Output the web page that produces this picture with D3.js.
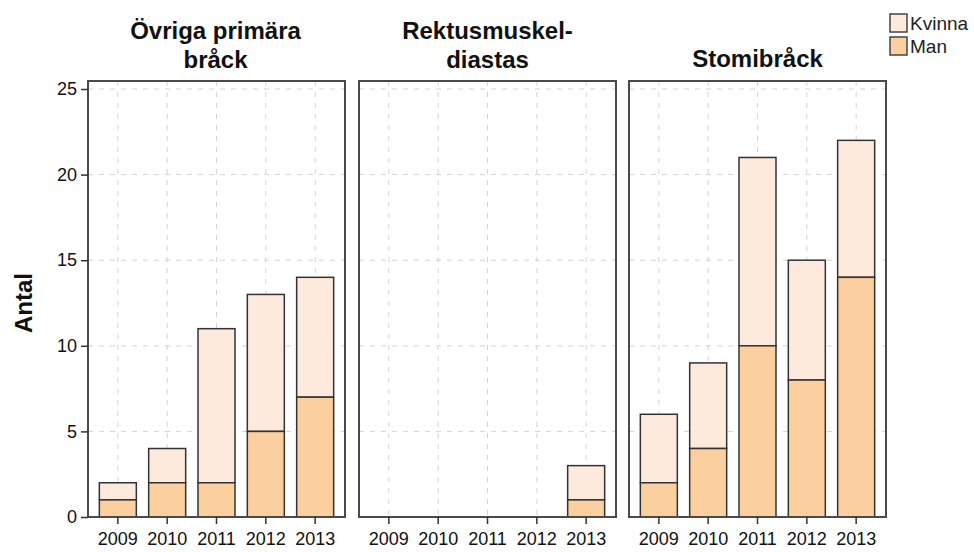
<!DOCTYPE html>
<html><head><meta charset="utf-8">
<script src="https://cdn.jsdelivr.net/npm/d3@7"></script>
<style>body{margin:0;background:#fff;} svg{display:block;}</style>
</head><body>
<script>
const years = ["2009","2010","2011","2012","2013"];
const panelTitles = [["Övriga primära","bråck"],["Rektusmuskel-","diastas"],["Stomibråck"]];
const manValues = [[1,2,2,5,7],[0,0,0,0,1],[2,4,10,8,14]];
const kvinnaValues = [[1,2,9,8,7],[0,0,0,0,2],[4,5,11,7,8]];
const yTicks = [0,5,10,15,20,25];
const seriesNames = ["Kvinna","Man"];
const seriesColors = ["#fdeadc","#fbcf9e"];

const W=974,H=552;
const svg=d3.select("body").append("svg").attr("width",W).attr("height",H);
const panelLeft=[88,359,629], panelW=257;
const frameTop=81, y0=517;
const y=d3.scaleLinear().domain([0,25]).range([y0,89]);
const font="'Liberation Sans', Arial, sans-serif";

panelLeft.forEach((px,pi)=>{
  const x=d3.scaleBand().domain(years).range([px,px+panelW]).paddingInner(0.25).paddingOuter(0.23);
  const g=svg.append("g");
  g.selectAll(".hg").data(yTicks.filter(d=>d>0)).join("line")
    .attr("x1",px).attr("x2",px+panelW).attr("y1",d=>y(d)).attr("y2",d=>y(d))
    .attr("stroke","#d4d4d4").attr("stroke-width",1).attr("stroke-dasharray","5,6");
  g.selectAll(".vg").data(years).join("line")
    .attr("x1",d=>x(d)+x.bandwidth()/2).attr("x2",d=>x(d)+x.bandwidth()/2)
    .attr("y1",frameTop).attr("y2",y0)
    .attr("stroke","#d4d4d4").attr("stroke-width",1).attr("stroke-dasharray","5,6");
  const stacked=years.map((yr,i)=>({yr,man:manValues[pi][i],kv:kvinnaValues[pi][i]}));
  stacked.forEach(d=>{
    if(d.man+d.kv===0) return;
    g.append("rect").attr("x",x(d.yr)).attr("width",x.bandwidth())
      .attr("y",y(d.man+d.kv)).attr("height",y(d.man)-y(d.man+d.kv))
      .attr("fill",seriesColors[0]).attr("stroke","#333").attr("stroke-width",1.5);
    g.append("rect").attr("x",x(d.yr)).attr("width",x.bandwidth())
      .attr("y",y(d.man)).attr("height",y(0)-y(d.man))
      .attr("fill",seriesColors[1]).attr("stroke","#333").attr("stroke-width",1.5);
  });
  g.append("rect").attr("x",px).attr("y",frameTop).attr("width",panelW).attr("height",y0-frameTop)
    .attr("fill","none").attr("stroke","#4a4a4a").attr("stroke-width",2);
  const xa=d3.axisBottom(x).tickSize(7).tickPadding(8);
  const ax=g.append("g").attr("transform",`translate(0,${y0})`).call(xa);
  ax.select(".domain").remove();
  ax.selectAll(".tick line").attr("stroke","#333").attr("stroke-width",1.5);
  ax.selectAll(".tick text").attr("font-family",font).attr("font-size",18).attr("fill","#111");
  const t=panelTitles[pi];
  t.forEach((line,li)=>{
    const base = t.length===1 ? 67 : 39+li*29;
    g.append("text").attr("text-anchor","middle").attr("font-family",font)
      .attr("font-weight","bold").attr("font-size",24).attr("fill","#111")
      .attr("x",px+panelW/2+(pi===0?-1:0)).attr("y",base).text(line);
  });
});

const ya=d3.axisLeft(y).tickValues(yTicks).tickSize(7).tickPadding(4);
const yg=svg.append("g").attr("transform",`translate(${panelLeft[0]},0)`).call(ya);
yg.select(".domain").remove();
yg.selectAll(".tick line").attr("stroke","#333").attr("stroke-width",1.5);
yg.selectAll(".tick text").attr("font-family",font).attr("font-size",18).attr("fill","#111");

svg.append("text").attr("transform","translate(32,303) rotate(-90)").attr("text-anchor","middle")
  .attr("font-family",font).attr("font-weight","bold").attr("font-size",24).attr("fill","#111").text("Antal");

const lg=svg.append("g");
seriesNames.forEach((n,i)=>{
  lg.append("rect").attr("x",890).attr("y",14+i*23).attr("width",17).attr("height",18)
    .attr("fill",seriesColors[i]).attr("stroke","#444").attr("stroke-width",1.5);
  lg.append("text").attr("x",910).attr("y",30+i*23).attr("font-family",font).attr("font-size",19)
    .attr("fill","#222").text(n);
});
</script>
</body></html>
